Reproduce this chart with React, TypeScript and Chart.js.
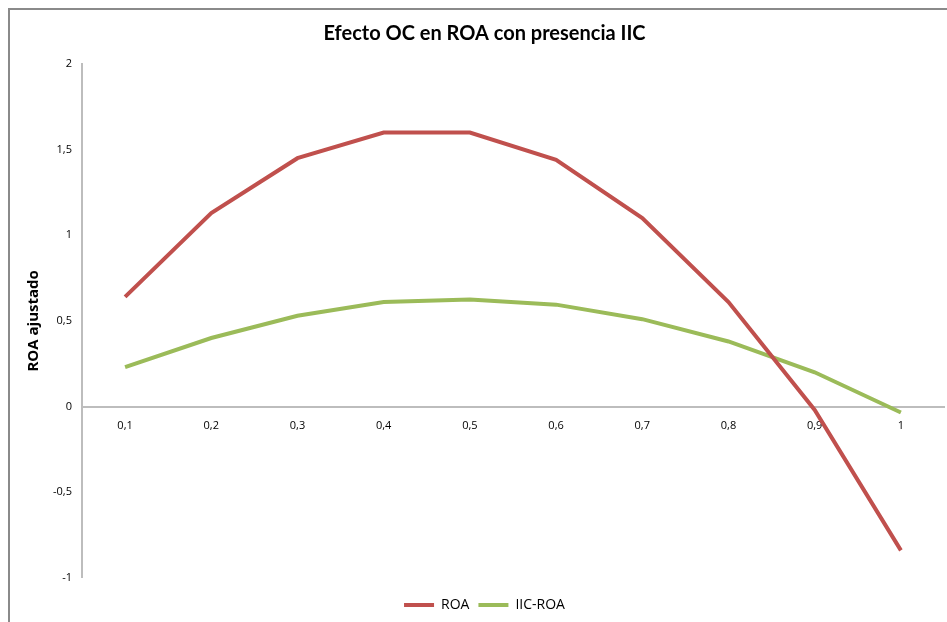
import React, { useEffect, useRef } from "react";
import { Chart, registerables } from "chart.js";

Chart.register(...registerables);

const categories = ["0,1", "0,2", "0,3", "0,4", "0,5", "0,6", "0,7", "0,8", "0,9", "1"];
const roaValues = [0.64, 1.13, 1.45, 1.6, 1.6, 1.44, 1.1, 0.61, -0.02, -0.84];
const iicRoaValues = [0.23, 0.4, 0.53, 0.61, 0.625, 0.595, 0.51, 0.38, 0.2, -0.035];
const yTickLabels: Record<string, string> = { "-1": "-1", "-0.5": "-0,5", "0": "0", "0.5": "0,5", "1": "1", "1.5": "1,5", "2": "2" };

const borderPlugin = {
  id: "outerBorder",
  beforeDraw(chart: any) {
    const ctx = chart.ctx;
    ctx.save();
    ctx.fillStyle = "#ffffff";
    ctx.fillRect(0, 0, chart.width, chart.height);
    ctx.strokeStyle = "#8a8a8a";
    ctx.lineWidth = 2;
    ctx.beginPath();
    ctx.moveTo(1, chart.height);
    ctx.lineTo(1, 1);
    ctx.lineTo(chart.width, 1);
    ctx.stroke();
    ctx.restore();
  },
};

export default function App() {
  const ref = useRef<HTMLCanvasElement>(null);
  useEffect(() => {
    if (!ref.current) return;
    const chart = new Chart(ref.current, {
      type: "line",
      data: {
        labels: categories,
        datasets: [
          { label: "ROA", data: roaValues, borderColor: "#C0504D", backgroundColor: "#C0504D", borderWidth: 4, pointRadius: 0, tension: 0 },
          { label: "IIC-ROA", data: iicRoaValues, borderColor: "#9BBB59", backgroundColor: "#9BBB59", borderWidth: 4, pointRadius: 0, tension: 0 },
        ],
      },
      options: {
        responsive: false,
        animation: false,
        layout: { padding: { left: 17, right: 3, top: 0, bottom: 0 } },
        plugins: {
          title: {
            display: true,
            text: "Efecto OC en ROA con presencia IIC",
            color: "#000",
            font: { family: "Lato", size: 20, weight: "bold" },
            padding: { top: 14, bottom: 18 },
          },
          legend: {
            position: "bottom",
            title: { display: true, text: " ", font: { size: 1 }, padding: { top: 10, bottom: 0 } },
            labels: {
              color: "#000",
              font: { family: "Open Sans", size: 14 },
              boxWidth: 30,
              boxHeight: 4,
              padding: 9,
              generateLabels: (c: any) =>
                c.data.datasets.map((d: any, i: number) => ({
                  text: d.label,
                  fillStyle: d.borderColor,
                  strokeStyle: d.borderColor,
                  fontColor: "#000",
                  lineWidth: 0,
                  datasetIndex: i,
                })),
            },
          },
          tooltip: { enabled: false },
        },
        scales: {
          x: {
            position: { y: 0 } as any,
            offset: true,
            grid: { display: false, drawTicks: false, offset: true },
            border: { display: true, color: "#bdbdbd", width: 2 },
            ticks: { color: "#000", font: { family: "Open Sans", size: 11 }, padding: 13, maxRotation: 0 },
          },
          y: {
            min: -1,
            max: 2,
            grid: { display: false, drawTicks: false },
            border: { display: true, color: "#bdbdbd", width: 2 },
            ticks: {
              stepSize: 0.5,
              color: "#000",
              font: { family: "Open Sans", size: 11 },
              padding: 10,
              callback: (v: any) => yTickLabels[String(v)] ?? String(v).replace(".", ","),
            },
            title: {
              display: true,
              text: "ROA ajustado",
              color: "#000",
              font: { family: "Open Sans", size: 15, weight: "bold" },
              padding: { top: 0, bottom: 0 },
            },
          },
        },
      },
      plugins: [borderPlugin],
    });
    return () => chart.destroy();
  }, []);
  return (
    <div style={{ position: "fixed", left: 8, top: 8, width: 939, height: 614, overflow: "hidden" }}>
      <canvas ref={ref} width={939} height={614} style={{ display: "block" }} />
    </div>
  );
}
